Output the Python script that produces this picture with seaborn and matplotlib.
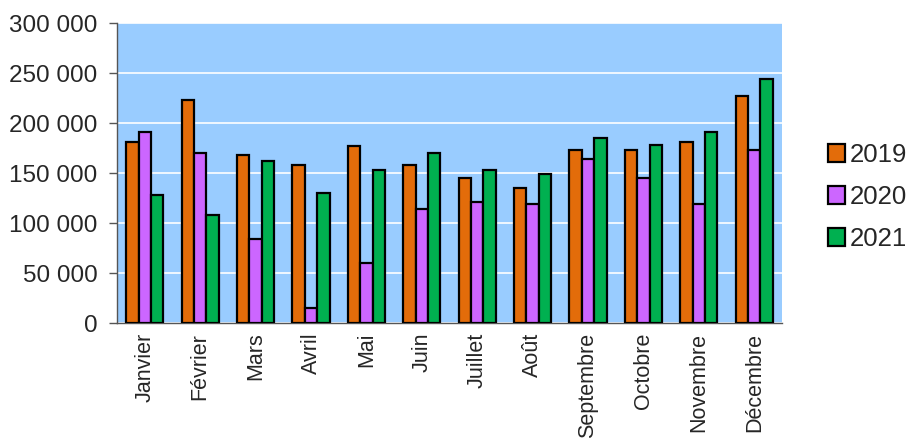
import pandas as pd
import matplotlib.pyplot as plt
import seaborn as sns
import numpy as np

# Données
mois = ['Janvier', 'Février', 'Mars', 'Avril', 'Mai', 'Juin', 'Juillet',
        'Août', 'Septembre', 'Octobre', 'Novembre', 'Décembre']
v2019 = [181000, 223500, 168500, 158000, 177000, 158500, 145000, 135000, 173000, 173000, 181000, 227000]
v2020 = [191500, 170000, 84000, 15500, 60000, 114000, 121000, 119000, 164000, 145000, 119000, 173500]
v2021 = [128000, 108500, 162000, 130000, 153000, 170500, 153500, 149000, 185000, 178500, 191000, 244500]
annees = ['2019', '2020', '2021']
couleurs = ['#E36C0A', '#CC66FF', '#00B050']

df = pd.DataFrame({
    'mois': mois * 3,
    'annee': [a for a in annees for _ in mois],
    'valeur': v2019 + v2020 + v2021,
})

sns.set_style('white')
plt.rcParams['font.family'] = ['Liberation Sans', 'DejaVu Sans']

fig = plt.figure(figsize=(9.09, 4.4), dpi=100)
ax = fig.add_axes([117 / 909, 1 - 323 / 440, 665 / 909, 300 / 440])
ax.set_facecolor('#99CCFF')

sns.barplot(data=df, x='mois', y='valeur', hue='annee', palette=couleurs,
            saturation=1, width=0.67, gap=0, edgecolor='black', linewidth=1.6,
            ax=ax, legend=True, zorder=3)

# Axes et grille
ax.set_ylim(0, 300000)
ax.set_xlim(-0.5, 11.5)
ax.set_yticks(np.arange(0, 300001, 50000))
ax.set_yticklabels([f'{v:,}'.replace(',', ' ') for v in range(0, 300001, 50000)],
                   fontsize=17.5, color='#262626')
ax.yaxis.grid(True, color='white', linewidth=1.2, zorder=0)
ax.set_axisbelow(True)
ax.set_xlabel('')
ax.set_ylabel('')

ax.set_xticks(range(12))
ax.set_xticklabels(mois, rotation=90, fontsize=15.5, color='#262626')
ax.set_xticks(np.arange(-0.5, 12, 1), minor=True)
ax.tick_params(axis='x', which='major', length=0, pad=7)
ax.tick_params(axis='x', which='minor', length=5, width=1, color='#555555', direction='out')
ax.tick_params(axis='y', length=6, width=1, color='#555555', direction='out', left=True, pad=8)

for s in ['top', 'right']:
    ax.spines[s].set_visible(False)
for s in ['left', 'bottom']:
    ax.spines[s].set_color('#555555')
    ax.spines[s].set_linewidth(1)

# Légende à droite
ax.get_legend().remove()
handles = [plt.Rectangle((0, 0), 1, 1, facecolor=c, edgecolor='black', linewidth=1.6) for c in couleurs]
fig.legend(handles, annees, loc='center left', bbox_to_anchor=(828 / 909, 1 - 197 / 440),
           frameon=False, fontsize=18.5, handlelength=0.65, handleheight=0.65,
           handletextpad=0.2, labelspacing=0.7, borderpad=0, borderaxespad=0)

fig.savefig('out.png', dpi=100)
